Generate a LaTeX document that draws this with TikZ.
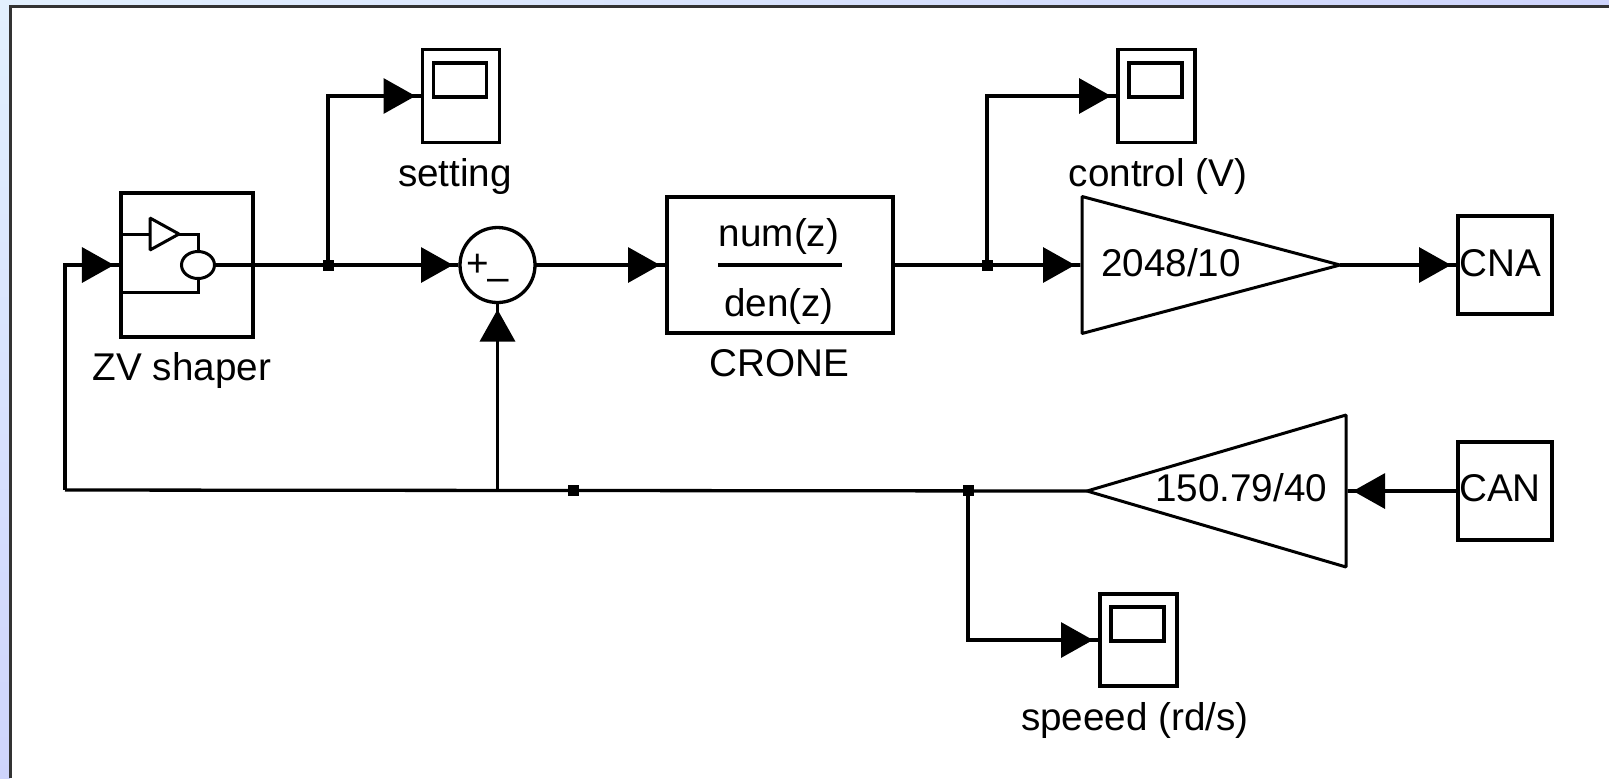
\documentclass[tikz,border=0pt]{standalone}
\usepackage{xcolor}
\usepackage{fontspec}
\setmainfont{Liberation Sans}
\definecolor{bgtop}{RGB}{226,240,254}
\definecolor{bgbottom}{RGB}{206,212,252}
\usetikzlibrary{arrows.meta, positioning, shapes.geometric, calc}
\tikzset{
  blockbox/.style={draw=black, line width=0.033cm, fill=white, inner sep=0pt, outer sep=0pt},
  sumbox/.style={blockbox, circle, minimum size=0.75cm},
  gainbox/.style={blockbox, isosceles triangle, isosceles triangle stretches, line width=0.03cm, line join=bevel},
  dotnode/.style={fill=black, inner sep=0pt, minimum size=0.11cm, outer sep=0pt},
  lbl/.style={font=\fontsize{11}{13}\selectfont, inner sep=0pt},
  wire/.style={line width=0.033cm},
  sig/.style={wire, -{Triangle[length=0.32cm,width=0.35cm,sep=0pt]Rectangle[length=0.07cm,width=0.033cm]}}
}
\begin{document}
\begin{tikzpicture}
  \useasboundingbox (0,0) rectangle (16.09,7.78);
  % Window background and canvas
  \shade[left color=bgtop, right color=bgbottom] (0,7.71) rectangle (16.09,7.78);
  \shade[top color=bgtop, bottom color=bgbottom] (0,0) rectangle (0.10,7.71);
  \draw[line width=0.03cm, black!80] (0.105,0) -- (0.105,7.715) -- (16.09,7.715);

  % --- Blocks ---
  \node[blockbox, minimum width=1.32cm, minimum height=1.44cm] (zv) at (1.87,5.130) {};
  \node[sumbox] (sum) at (4.975,5.13) {};
  \node[blockbox, minimum width=2.26cm, minimum height=1.36cm] (crone) at (7.80,5.130) {};
  \node[gainbox, minimum height=2.58cm, minimum width=1.37cm, anchor=lower side] (gainout) at (10.82,5.13) {};
  \node[blockbox, minimum width=0.94cm, minimum height=0.98cm] (cna) at (15.05,5.13) {};
  \node[blockbox, minimum width=0.94cm, minimum height=0.98cm] (can) at (15.05,2.87) {};
  \node[gainbox, shape border rotate=180, minimum height=2.59cm, minimum width=1.52cm, anchor=lower side] (gainin) at (13.46,2.87) {};

  % Scopes
  \node[blockbox, minimum width=0.77cm, minimum height=0.93cm] (setscope) at (4.61,6.82) {};
  \node[blockbox, minimum width=0.53cm, minimum height=0.34cm] (setscreen) at (4.60,6.98) {};
  \node[blockbox, minimum width=0.77cm, minimum height=0.93cm] (ctrlscope) at (11.565,6.82) {};
  \node[blockbox, minimum width=0.53cm, minimum height=0.34cm] (ctrlscreen) at (11.555,6.98) {};
  \node[blockbox, minimum width=0.77cm, minimum height=0.92cm] (spdscope) at (11.385,1.38) {};
  \node[blockbox, minimum width=0.53cm, minimum height=0.34cm] (spdscreen) at (11.375,1.54) {};

  % --- Labels ---
  \node[lbl] (setlabel) at (4.55,6.02) {setting};
  \node[lbl] (ctrllabel) at (11.58,6.02) {control (V)};
  \node[lbl] (spdlabel) at (11.35,0.58) {speeed (rd/s)};
  \node[lbl] (zvlabel) at (1.82,4.08) {ZV shaper};
  \node[lbl] (cronelabel) at (7.79,4.15) {CRONE};
  \node[lbl] (numlabel) at (7.79,5.42) {num(z)};
  \node[lbl] (denlabel) at (7.79,4.72) {den(z)};
  \draw[wire] (7.18,5.13) -- (8.42,5.13);
  \node[lbl] (gainoutlabel) at (11.71,5.15) {2048/10};
  \node[lbl] (gaininlabel) at (12.41,2.90) {150.79/40};
  \node[lbl] (cnalabel) at (15.00,5.15) {CNA};
  \node[lbl] (canlabel) at (15.00,2.90) {CAN};
  \node[lbl] (pluslabel) at (4.78,5.13) {+};
  \node[lbl] (minuslabel) at (4.98,4.93) {--};

  % --- Junctions ---
  \node[dotnode] (jset) at (3.28,5.13) {};
  \node[dotnode] (jctrl) at (9.87,5.13) {};
  \node[dotnode] (jmid) at (5.73,2.88) {};
  \node[dotnode] (jspd) at (9.68,2.88) {};
  \coordinate (jfb) at (4.975,2.88);
  \coordinate (corner) at (0.65,2.88);

  % --- Icon in the shaper block ---
  \node[blockbox, ellipse, minimum width=0.33cm, minimum height=0.27cm, line width=0.03cm] (icondelay) at (1.98,5.13) {};
  \node[gainbox, minimum height=0.29cm, minimum width=0.32cm, anchor=lower side] (icongain) at (1.50,5.44) {};
  \draw[line width=0.03cm] (zv.west |- icongain.lower side) -- (icongain.lower side);
  \draw[line width=0.03cm] (icongain.apex) -| (icondelay.north);
  \draw[line width=0.03cm] (icondelay.south) |- (zv.west |- 0,4.86);
  \draw[wire] (icondelay.east) -- (zv.east);

  % --- Connectors ---
  \draw[sig] (zv.east) -- (sum.west);
  \draw[sig] (jset.center) |- (setscope.west);
  \draw[sig] (sum.east) -- (crone.west);
  \draw[sig] (crone.east) -- (gainout.lower side);
  \draw[sig] (jctrl.center) |- (ctrlscope.west);
  \draw[sig] (gainout.apex) -- (cna.west);
  \draw[sig] (can.west) -- (gainin.lower side);
  \draw[wire] (gainin.apex) -- (corner);
  \draw[sig] (corner) |- (zv.west);
  \draw[sig] (jfb) -- (sum.south);
  \draw[sig] (jspd.center) |- (spdscope.west);
\end{tikzpicture}
\end{document}
